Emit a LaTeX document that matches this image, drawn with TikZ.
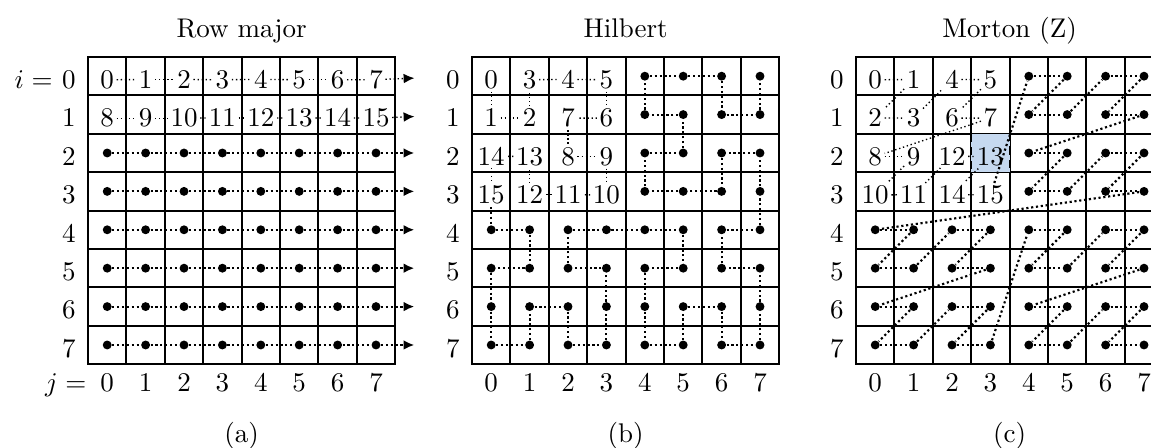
\documentclass[tikz,border=0pt]{standalone}
\usetikzlibrary{arrows.meta}
\definecolor{hlblue}{RGB}{198,217,240}
\begin{document}
\begin{tikzpicture}[x=0.5cm,y=0.5cm,
  gridline/.style={line width=0.75pt, line cap=rect},
  num/.style={inner sep=0.8pt, anchor=base},
  dotnode/.style={circle, fill=black, inner sep=0pt, minimum size=3.3pt},
  numline/.style={dash pattern=on 0.5pt off 1pt, line width=0.5pt},
  dotline/.style={dash pattern=on 0.8pt off 1pt, line width=0.8pt},
  lab/.style={inner sep=0pt},
  ttl/.style={inner sep=0pt, anchor=base},
  tipend/.style={-{Latex[length=4pt,width=3.6pt]}},
  hl/.style={fill=hlblue, draw=black, densely dashed, line width=0.4pt}]
\useasboundingbox (0,0) rectangle (29.974,-11.641);

% ---------------- (a) Row major ----------------
\begin{scope}[shift={(2.292,-1.484)}]
  \foreach \k in {0,...,8} {
    \draw[gridline] (\k,0) -- (\k,-8);
    \draw[gridline] (0,-\k) -- (8,-\k);
  }
  \node[ttl] (ta) at (4,0.51) {Row major};
  \foreach \i in {0,...,7} \node[lab, anchor=base east] (ra\i) at (-0.31,{-\i-0.82}) {\i};
  \node[lab, anchor=base east] (ia) at (-0.91,-0.82) {$i =$};
  \foreach \j in {0,...,7} \node[lab, anchor=base] (ca\j) at (\j+0.5,-8.72) {\j};
  \node[lab, anchor=base east] (ja) at (-0.03,-8.72) {$j =$};
  \node[ttl] (capa) at (4,-10.03) {(a)};
  \foreach \i in {0,1} {
    \foreach \j in {0,...,7} {
      \pgfmathtruncatemacro\n{8*\i+\j}
      \node[num] (a-\i-\j) at (\j+0.5,{-\i-0.82}) {\n};
    }
    \coordinate (a-\i-e) at (8.5,{-\i-0.55});
    \foreach \j [count=\k] in {0,...,6} \draw[numline] (a-\i-\j) -- (a-\i-\k);
    \draw[numline, tipend] (a-\i-7) -- (a-\i-e);
  }
  \foreach \i in {2,...,7} {
    \foreach \j in {0,...,7} \node[dotnode] (a-\i-\j) at (\j+0.5,{-\i-0.5}) {};
    \coordinate (a-\i-e) at (8.5,{-\i-0.5});
    \foreach \j [count=\k] in {0,...,6} \draw[dotline] (a-\i-\j) -- (a-\i-\k);
    \draw[dotline, tipend] (a-\i-7) -- (a-\i-e);
  }
\end{scope}

% ---------------- (b) Hilbert ----------------
\begin{scope}[shift={(12.292,-1.484)}]
  \foreach \k in {0,...,8} {
    \draw[gridline] (\k,0) -- (\k,-8);
    \draw[gridline] (0,-\k) -- (8,-\k);
  }
  \node[ttl] (tb) at (4,0.51) {Hilbert};
  \foreach \i in {0,...,7} \node[lab, anchor=base east] (rb\i) at (-0.31,{-\i-0.82}) {\i};
  \foreach \j in {0,...,7} \node[lab, anchor=base] (cb\j) at (\j+0.5,-8.72) {\j};
  \node[ttl] (capb) at (4,-10.03) {(b)};
  \foreach \i/\j [count=\n from 0] in {0/0,1/0,1/1,0/1,0/2,0/3,1/3,1/2,2/2,2/3,3/3,3/2,3/1,2/1,2/0,3/0,
      4/0,4/1,5/1,5/0,6/0,7/0,7/1,6/1,6/2,7/2,7/3,6/3,5/3,5/2,4/2,4/3,
      4/4,4/5,5/5,5/4,6/4,7/4,7/5,6/5,6/6,7/6,7/7,6/7,5/7,5/6,4/6,4/7,
      3/7,2/7,2/6,3/6,3/5,3/4,2/4,2/5,1/5,1/4,0/4,0/5,0/6,1/6,1/7,0/7} {
    \ifnum\n<16
      \node[num] (h\n) at (\j+0.5,{-\i-0.82}) {\n};
    \else
      \node[dotnode] (h\n) at (\j+0.5,{-\i-0.5}) {};
    \fi
  }
  \foreach \n [count=\m] in {0,...,14} \draw[numline] (h\n) -- (h\m);
  \foreach \n [count=\m from 16] in {15,...,62} \draw[dotline] (h\n) -- (h\m);
\end{scope}

% ---------------- (c) Morton (Z) ----------------
\begin{scope}[shift={(22.292,-1.484)}]
  \foreach \k in {0,...,8} {
    \draw[gridline] (\k,0) -- (\k,-8);
    \draw[gridline] (0,-\k) -- (8,-\k);
  }
  \draw[hl] (3,-2) rectangle (4,-3);
  \node[ttl] (tc) at (4,0.51) {Morton (Z)};
  \foreach \i in {0,...,7} \node[lab, anchor=base east] (rc\i) at (-0.31,{-\i-0.82}) {\i};
  \foreach \j in {0,...,7} \node[lab, anchor=base] (cc\j) at (\j+0.5,-8.72) {\j};
  \node[ttl] (capc) at (4,-10.03) {(c)};
  \foreach \n in {0,...,63} {
    \pgfmathtruncatemacro\jj{mod(\n,2)+2*mod(floor(\n/4),2)+4*mod(floor(\n/16),2)}
    \pgfmathtruncatemacro\ii{mod(floor(\n/2),2)+2*mod(floor(\n/8),2)+4*mod(floor(\n/32),2)}
    \ifnum\n<16
      \node[num] (z\n) at (\jj+0.5,{-\ii-0.82}) {\n};
    \else
      \node[dotnode] (z\n) at (\jj+0.5,{-\ii-0.5}) {};
    \fi
  }
  \foreach \n [count=\m] in {0,...,14} \draw[numline] (z\n) -- (z\m);
  \foreach \n [count=\m from 16] in {15,...,62} \draw[dotline] (z\n) -- (z\m);
\end{scope}
\end{tikzpicture}
\end{document}
